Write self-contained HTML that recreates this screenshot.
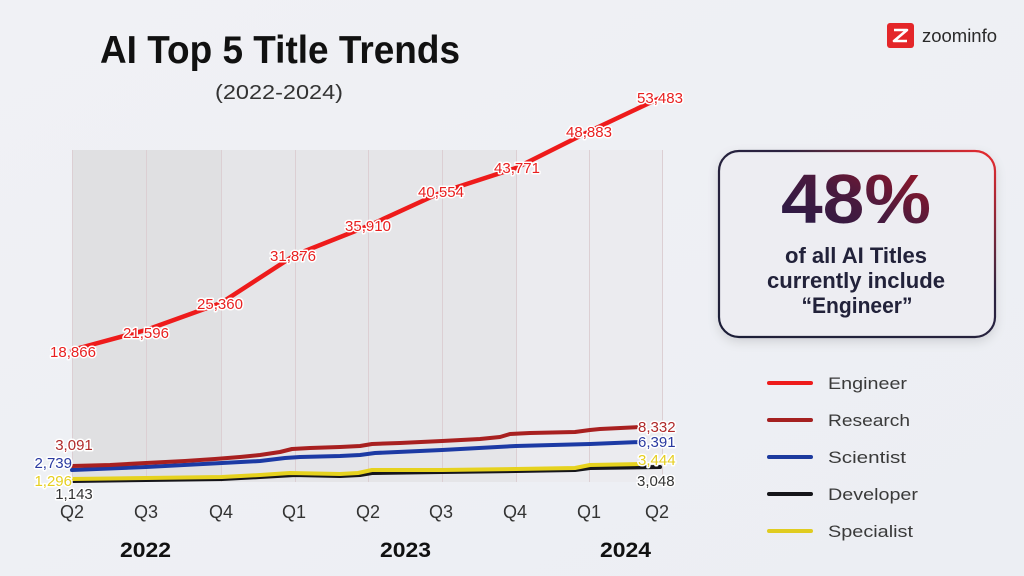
<!DOCTYPE html>
<html>
<head>
<meta charset="utf-8">
<style>
  html, body { margin: 0; padding: 0; }
  body { width: 1024px; height: 576px; overflow: hidden; background: #eeeff4; }
  svg { display: block; font-family: "Liberation Sans", "DejaVu Sans", sans-serif; }
  .lbl { font-size: 15px; paint-order: stroke; stroke: #ffffff; stroke-width: 3px; stroke-linejoin: round; }
</style>
</head>
<body>
<svg width="1024" height="576" viewBox="0 0 1024 576" xmlns="http://www.w3.org/2000/svg">
  <defs>
    <linearGradient id="bg" x1="0" y1="0" x2="1" y2="1">
      <stop offset="0" stop-color="#f0f1f5"/>
      <stop offset="1" stop-color="#eceef3"/>
    </linearGradient>
    <linearGradient id="shade" x1="0" y1="0" x2="1" y2="0">
      <stop offset="0" stop-color="#e1e1e3"/>
      <stop offset="0.5" stop-color="#e2e2e5"/>
      <stop offset="1" stop-color="#e7e7ea"/>
    </linearGradient>
    <linearGradient id="boxstroke" x1="0" y1="1" x2="1" y2="0">
      <stop offset="0" stop-color="#1e1f38"/>
      <stop offset="0.62" stop-color="#2a2440"/>
      <stop offset="1" stop-color="#ec2a2e"/>
    </linearGradient>
    <linearGradient id="pct" x1="0" y1="1" x2="1" y2="0">
      <stop offset="0" stop-color="#1f1a48"/>
      <stop offset="0.5" stop-color="#4a1a3e"/>
      <stop offset="1" stop-color="#a81522"/>
    </linearGradient>
    <filter id="sh" x="-10%" y="-10%" width="120%" height="130%">
      <feDropShadow dx="0" dy="4" stdDeviation="5" flood-color="#000" flood-opacity="0.12"/>
    </filter>
  </defs>

  <rect x="0" y="0" width="1024" height="576" fill="url(#bg)"/>

  <!-- Title -->
  <text x="100" y="63" font-size="39" font-weight="bold" fill="#111" textLength="360" lengthAdjust="spacingAndGlyphs">AI Top 5 Title Trends</text>
  <text x="215" y="99" font-size="20" fill="#333" textLength="128" lengthAdjust="spacingAndGlyphs">(2022-2024)</text>

  <!-- Logo -->
  <rect x="887" y="23" width="27" height="25" rx="3" fill="#e42629"/>
  <path d="M894 30 H907 L894 41 H907" fill="none" stroke="#fff" stroke-width="2.6" stroke-linejoin="round"/>
  <text x="922" y="42" font-size="18" fill="#2a2a2a" textLength="75" lengthAdjust="spacingAndGlyphs">zoominfo</text>

  <!-- Plot shading -->
  <rect x="72" y="150" width="150" height="332" fill="#e0e0e2"/>
  <rect x="222" y="150" width="294" height="332" fill="#e5e5e8"/>
  <rect x="516" y="150" width="147" height="332" fill="#ebebef"/>

  <!-- grid lines -->
  <g stroke="#dccfd3" stroke-width="1">
    <line x1="72.5" y1="150" x2="72.5" y2="482"/>
    <line x1="146.5" y1="150" x2="146.5" y2="482"/>
    <line x1="221.5" y1="150" x2="221.5" y2="482"/>
    <line x1="295.5" y1="150" x2="295.5" y2="482"/>
    <line x1="368.5" y1="150" x2="368.5" y2="482"/>
    <line x1="442.5" y1="150" x2="442.5" y2="482"/>
    <line x1="516.5" y1="150" x2="516.5" y2="482"/>
    <line x1="589.5" y1="150" x2="589.5" y2="482"/>
    <line x1="662.5" y1="150" x2="662.5" y2="482"/>
  </g>

  <!-- Lower series -->
  <g fill="none" stroke-width="4" stroke-linejoin="round" stroke-linecap="round">
    <polyline stroke="#15151a" points="72,481 146,480 222,479 260,477 295,475 340,476 360,475 372,473 442,472 516,471 575,470 590,468 660,467"/>
    <polyline stroke="#e6d21e" points="72,479 146,478 222,477 260,475 290,473 340,474 358,473 372,470 442,470 516,469 575,468 590,465 640,464"/>
    <polyline stroke="#1c3aa4" points="72,470 146,467 222,463 260,461 285,458 300,457 340,456 360,455 375,453 442,450 516,446 590,444 640,442"/>
    <polyline stroke="#a82020" points="72,466 110,465 146,463 185,461 215,459 240,457 260,455 280,452 292,449 310,448 340,447 360,446 372,444 400,443 442,441 480,439 500,437 510,434 530,433 575,432 590,430 600,429 640,427"/>
  </g>

  <!-- Engineer -->
  <polyline fill="none" stroke="#ee1b1b" stroke-width="4.5" stroke-linejoin="round" stroke-linecap="round"
    points="72,350 146,330 221,303 295,255 368,226 442,192 516,168 590,131 660,98"/>

  <!-- Engineer labels -->
  <g class="lbl" fill="#e82020" text-anchor="middle">
    <text x="73" y="357">18,866</text>
    <text x="146" y="338">21,596</text>
    <text x="220" y="309">25,360</text>
    <text x="293" y="261">31,876</text>
    <text x="368" y="231">35,910</text>
    <text x="441" y="197">40,554</text>
    <text x="517" y="173">43,771</text>
    <text x="589" y="137">48,883</text>
    <text x="660" y="103">53,483</text>
  </g>

  <!-- lower series labels -->
  <g class="lbl">
    <text x="74" y="450" text-anchor="middle" fill="#b02a2a">3,091</text>
    <text x="72" y="468" text-anchor="end" fill="#2a3aa0">2,739</text>
    <text x="72" y="486" text-anchor="end" fill="#e6cf20">1,296</text>
    <text x="74" y="499" text-anchor="middle" fill="#333">1,143</text>
    <text x="638" y="432" fill="#b02a2a">8,332</text>
    <text x="638" y="447" fill="#2a3aa0">6,391</text>
    <text x="638" y="465" fill="#e6cf20">3,444</text>
    <text x="637" y="486" fill="#333">3,048</text>
  </g>

  <!-- X axis labels -->
  <g font-size="18" fill="#333" text-anchor="middle">
    <text x="72" y="518">Q2</text>
    <text x="146" y="518">Q3</text>
    <text x="221" y="518">Q4</text>
    <text x="294" y="518">Q1</text>
    <text x="368" y="518">Q2</text>
    <text x="441" y="518">Q3</text>
    <text x="515" y="518">Q4</text>
    <text x="589" y="518">Q1</text>
    <text x="657" y="518">Q2</text>
  </g>
  <g font-size="21" font-weight="bold" fill="#111">
    <text x="120" y="557" textLength="51" lengthAdjust="spacingAndGlyphs">2022</text>
    <text x="380" y="557" textLength="51" lengthAdjust="spacingAndGlyphs">2023</text>
    <text x="600" y="557" textLength="51" lengthAdjust="spacingAndGlyphs">2024</text>
  </g>

  <!-- Callout box -->
  <rect x="719" y="151" width="276" height="186" rx="20" fill="#ededf2" stroke="url(#boxstroke)" stroke-width="2.2" filter="url(#sh)"/>
  <text x="856" y="223" font-size="70" font-weight="bold" fill="url(#pct)" text-anchor="middle" textLength="150" lengthAdjust="spacingAndGlyphs">48%</text>
  <g font-size="22" font-weight="bold" fill="#22223a" text-anchor="middle">
    <text x="856" y="263" textLength="142" lengthAdjust="spacingAndGlyphs">of all AI Titles</text>
    <text x="856" y="288" textLength="178" lengthAdjust="spacingAndGlyphs">currently include</text>
    <text x="857" y="313" textLength="111" lengthAdjust="spacingAndGlyphs">“Engineer”</text>
  </g>

  <!-- Legend -->
  <g stroke-width="4" stroke-linecap="round">
    <line x1="769" y1="383" x2="811" y2="383" stroke="#ee1b1b"/>
    <line x1="769" y1="420" x2="811" y2="420" stroke="#a52020"/>
    <line x1="769" y1="457" x2="811" y2="457" stroke="#1c3a9e"/>
    <line x1="769" y1="494" x2="811" y2="494" stroke="#15151a"/>
    <line x1="769" y1="531" x2="811" y2="531" stroke="#e0cc20"/>
  </g>
  <g font-size="17" fill="#3a3a3a">
    <text x="828" y="389" textLength="79" lengthAdjust="spacingAndGlyphs">Engineer</text>
    <text x="828" y="426" textLength="82" lengthAdjust="spacingAndGlyphs">Research</text>
    <text x="828" y="463" textLength="78" lengthAdjust="spacingAndGlyphs">Scientist</text>
    <text x="828" y="500" textLength="90" lengthAdjust="spacingAndGlyphs">Developer</text>
    <text x="828" y="537" textLength="85" lengthAdjust="spacingAndGlyphs">Specialist</text>
  </g>
</svg>
</body>
</html>
